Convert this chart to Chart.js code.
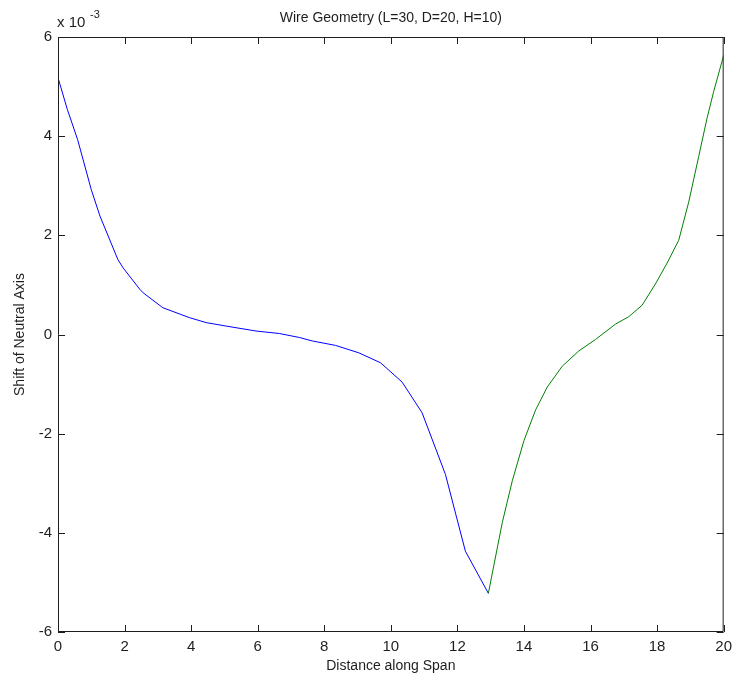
<!DOCTYPE html>
<html>
<head>
<meta charset="utf-8">
<title>Wire Geometry</title>
<script src="https://cdn.jsdelivr.net/npm/chart.js@4/dist/chart.umd.min.js"></script>
<style>
    html, body { margin: 0; padding: 0; background: #fff; }
    #wrap { width: 738px; height: 683px; }
</style>
</head>
<body>
<div id="wrap"><canvas id="wire"></canvas></div>
<script>
'use strict';

// Shift of the neutral axis, in units of 10^-3
const spanLeft = [0, 0.28, 0.59, 1.0, 1.26, 1.8, 1.96, 2.46, 2.56, 3.15, 3.95, 4.45, 5.05, 5.95, 6.65, 7.25, 7.64, 8.34, 9.04, 9.69, 10.34, 10.94, 11.64, 12.24, 12.93];
const shiftLeft = [5.18, 4.54, 3.93, 2.92, 2.39, 1.51, 1.34, 0.91, 0.84, 0.54, 0.34, 0.24, 0.17, 0.07, 0.02, -0.06, -0.13, -0.22, -0.37, -0.57, -0.96, -1.58, -2.82, -4.37, -5.22];

const spanRight = [12.93, 13.35, 13.65, 14.0, 14.35, 14.7, 15.15, 15.65, 16.15, 16.75, 17.15, 17.55, 17.95, 18.3, 18.65, 18.95, 19.25, 19.5, 19.7, 20.0];
const shiftRight = [-5.22, -3.79, -2.95, -2.14, -1.52, -1.06, -0.64, -0.33, -0.10, 0.21, 0.36, 0.59, 1.02, 1.44, 1.90, 2.67, 3.59, 4.36, 4.90, 5.63];

const xTicks = [0, 2, 4, 6, 8, 10, 12, 14, 16, 18, 20];
const yTicks = [-6, -4, -2, 0, 2, 4, 6];

const FONT = "'Liberation Sans', Arial, Helvetica, sans-serif";
const INK = '#1e1e1e';

const toPoints = (xs, ys) => xs.map((x, i) => ({x: x, y: ys[i]}));

// box around the plot with inward tick marks, title and exponent
const frame = {
    id: 'frame',
    afterDraw(chart) {
        const {ctx, chartArea: a, scales: {x, y}} = chart;
        ctx.save();
        ctx.strokeStyle = INK;
        ctx.lineWidth = 1;
        ctx.beginPath();
        ctx.rect(a.left + 0.5, a.top + 0.5, a.right - a.left - 1, a.bottom - a.top - 1);
        xTicks.forEach(v => {
            const px = Math.round(x.getPixelForValue(v)) + 0.5;
            ctx.moveTo(px, a.bottom);
            ctx.lineTo(px, a.bottom - 7);
            ctx.moveTo(px, a.top);
            ctx.lineTo(px, a.top + 7);
        });
        yTicks.forEach(v => {
            const py = Math.round(y.getPixelForValue(v)) + 0.5;
            ctx.moveTo(a.left, py);
            ctx.lineTo(a.left + 7, py);
            ctx.moveTo(a.right, py);
            ctx.lineTo(a.right - 7, py);
        });
        ctx.stroke();

        ctx.fillStyle = INK;
        ctx.font = '14px ' + FONT;
        ctx.textAlign = 'center';
        ctx.textBaseline = 'middle';
        ctx.fillText('Wire Geometry (L=30, D=20, H=10)', (a.left + a.right) / 2, 18);

        ctx.textAlign = 'left';
        ctx.font = '15px ' + FONT;
        ctx.fillText('x 10', a.left - 1, 23);
        ctx.font = '11px ' + FONT;
        ctx.fillText('-3', a.left + 32, 15);
        ctx.restore();
    }
};

new Chart(document.getElementById('wire'), {
    type: 'scatter',
    data: {
        datasets: [{
            data: toPoints(spanLeft, shiftLeft),
            borderColor: '#0000ff',
            borderWidth: 1,
            showLine: true,
            pointRadius: 0,
            tension: 0
        }, {
            data: toPoints(spanRight, shiftRight),
            borderColor: '#008000',
            borderWidth: 1,
            showLine: true,
            pointRadius: 0,
            tension: 0
        }]
    },
    options: {
        responsive: true,
        maintainAspectRatio: false,
        animation: false,
        layout: {padding: {top: 37, right: 12, left: 0, bottom: 0}},
        plugins: {
            legend: {display: false},
            tooltip: {enabled: false}
        },
        scales: {
            x: {
                type: 'linear',
                min: 0,
                max: 20,
                afterFit: s => { s.height = 51; },
                afterBuildTicks: s => { s.ticks = xTicks.map(v => ({value: v})); },
                grid: {display: false, drawTicks: false},
                border: {display: false},
                ticks: {color: INK, font: {family: FONT, size: 15}, padding: 6, maxRotation: 0},
                title: {display: true, text: 'Distance along Span', color: INK, font: {family: FONT, size: 14}, padding: {top: 0, bottom: 8}}
            },
            y: {
                type: 'linear',
                min: -6,
                max: 6,
                afterFit: s => { s.width = 58; },
                afterBuildTicks: s => { s.ticks = yTicks.map(v => ({value: v})); },
                grid: {display: false, drawTicks: false},
                border: {display: false},
                ticks: {color: INK, font: {family: FONT, size: 15}, padding: 6},
                title: {display: true, text: 'Shift of Neutral Axis', color: INK, font: {family: FONT, size: 14}, padding: {top: 12, bottom: 0}}
            }
        }
    },
    plugins: [frame]
});
</script>
</body>
</html>
